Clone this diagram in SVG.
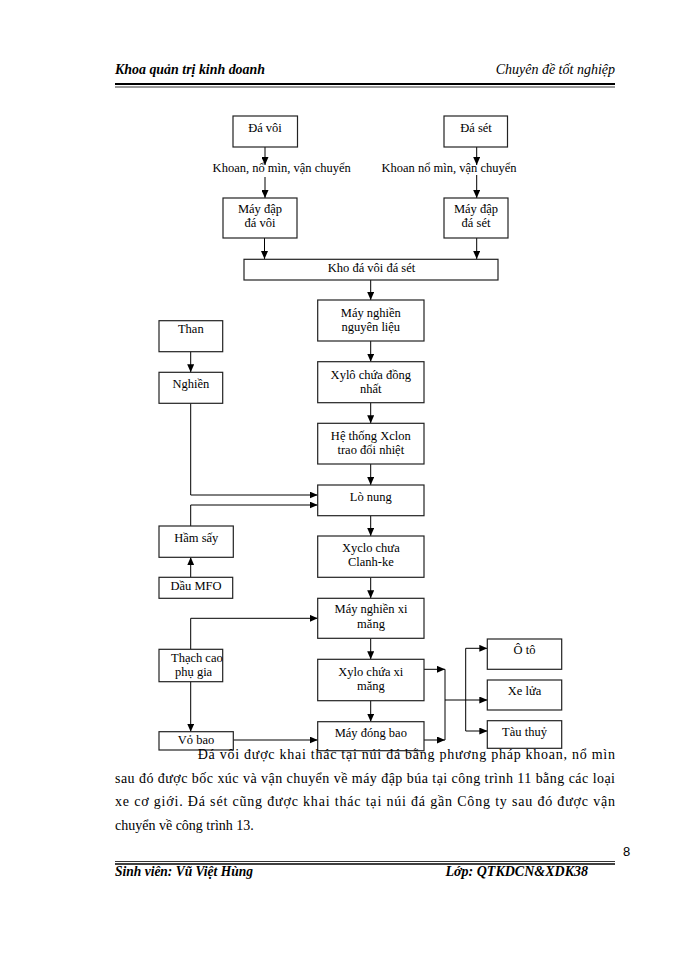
<svg xmlns="http://www.w3.org/2000/svg" width="700" height="960" viewBox="0 0 700 960">
<style>
.box{fill:#fff;stroke:#222;stroke-width:1.2}
.t{font-family:"Liberation Serif","Times New Roman",serif;font-size:12.5px;fill:#000;text-anchor:middle}
.ts{font-family:"Liberation Serif","Times New Roman",serif;font-size:12.5px;fill:#000}
.p{font-family:"Liberation Serif","Times New Roman",serif;font-size:14px;fill:#000}
.hb{font-family:"Liberation Serif","Times New Roman",serif;font-size:14px;font-style:italic;font-weight:bold;fill:#000}
.hi{font-family:"Liberation Serif","Times New Roman",serif;font-size:14px;font-style:italic;fill:#000}
.c{fill:none;stroke:#000;stroke-width:1}
.a{marker-end:url(#ah)}
</style>
<defs>
<marker id="ah" markerUnits="userSpaceOnUse" markerWidth="8" markerHeight="7" refX="8" refY="3.5" orient="auto">
<path d="M0,0 L8,3.5 L0,7 z" fill="#000"/>
</marker>
</defs>
<rect width="700" height="960" fill="#fff"/>

<g id="header">
<text class="hb" x="115" y="74" textLength="150" lengthAdjust="spacingAndGlyphs">Khoa quản trị kinh doanh</text>
<text class="hi" x="615" y="74" text-anchor="end">Chuyên đề tốt nghiệp</text>
<line x1="115" y1="84" x2="615" y2="84" stroke="#000" stroke-width="2"/>
<line x1="115" y1="87" x2="615" y2="87" stroke="#000" stroke-width="0.8"/>
</g>

<g id="connectors">
<line class="c a" x1="265" y1="147" x2="265" y2="165"/>
<line class="c a" x1="265" y1="177" x2="265" y2="198"/>
<line class="c a" x1="476.7" y1="147" x2="476.7" y2="165"/>
<line class="c a" x1="476.7" y1="175" x2="476.7" y2="198"/>
<line class="c a" x1="264.5" y1="238" x2="264.5" y2="259"/>
<line class="c a" x1="476.7" y1="238" x2="476.7" y2="259"/>
<line class="c a" x1="370.7" y1="280" x2="370.7" y2="300"/>
<line class="c a" x1="370.7" y1="341" x2="370.7" y2="361.7"/>
<line class="c a" x1="370.7" y1="402.7" x2="370.7" y2="423.3"/>
<line class="c a" x1="370.7" y1="464" x2="370.7" y2="485"/>
<line class="c a" x1="370.7" y1="515.7" x2="370.7" y2="536"/>
<line class="c a" x1="370.7" y1="577.3" x2="370.7" y2="598.3"/>
<line class="c a" x1="370.7" y1="638.3" x2="370.7" y2="659.3"/>
<line class="c a" x1="370.7" y1="700.7" x2="370.7" y2="721.7"/>
<line class="c a" x1="190.7" y1="351.7" x2="190.7" y2="372.3"/>
<polyline class="c a" points="190.7,403.3 190.7,495 317.7,495"/>
<polyline class="c a" points="190.7,526 190.7,505 317.7,505"/>
<line class="c a" x1="190.7" y1="577.3" x2="190.7" y2="557.3"/>
<polyline class="c a" points="190.7,649.3 190.7,618.3 317.7,618.3"/>
<line class="c a" x1="190.7" y1="681.7" x2="190.7" y2="731.7"/>
<line class="c a" x1="233.3" y1="740" x2="317.7" y2="740"/>
<line class="c a" x1="424" y1="669.3" x2="445" y2="669.3"/>
<line class="c a" x1="424" y1="740" x2="445" y2="740"/>
<line class="c" x1="445" y1="669.3" x2="445" y2="740"/>
<line class="c a" x1="445" y1="700" x2="487.3" y2="700"/>
<line class="c" x1="465.7" y1="648.3" x2="465.7" y2="731"/>
<line class="c a" x1="465.7" y1="648.3" x2="487.3" y2="648.3"/>
<line class="c a" x1="465.7" y1="731" x2="487.3" y2="731"/>
</g>

<g id="label-left"><text class="t" x="281.7" y="172">Khoan, nổ mìn,  vận chuyển</text></g>
<g id="label-right"><text class="t" x="449" y="172">Khoan nổ mìn,  vận chuyển</text></g>

<g id="da-voi"><rect class="box" x="233" y="116" width="64.5" height="31"/><text class="t" x="265" y="132">Đá vôi</text></g>
<g id="da-set"><rect class="box" x="444" y="116" width="63.5" height="31"/><text class="t" x="476" y="132">Đá sét</text></g>
<g id="may-dap-da-voi"><rect class="box" x="223" y="198" width="74" height="40"/><text class="t" x="260" y="213">Máy đập</text><text class="t" x="260" y="227">đá vôi</text></g>
<g id="may-dap-da-set"><rect class="box" x="444" y="198" width="64" height="40"/><text class="t" x="476" y="213">Máy đập</text><text class="t" x="476" y="227">đá sét</text></g>
<g id="kho"><rect class="box" x="244" y="259.3" width="254" height="20.7"/><text class="t" x="371.5" y="271.5">Kho đá vôi đá sét</text></g>
<g id="may-nghien-nl"><rect class="box" x="317.7" y="300" width="106.3" height="41"/><text class="t" x="370.8" y="317">Máy nghiền</text><text class="t" x="370.8" y="331">nguyên liệu</text></g>
<g id="xylo-dong-nhat"><rect class="box" x="317.7" y="361.7" width="106.3" height="41"/><text class="t" x="370.8" y="378.5">Xylô  chứa đồng</text><text class="t" x="370.8" y="392.5">nhất</text></g>
<g id="he-thong-xclon"><rect class="box" x="317.7" y="423.3" width="106.3" height="40.7"/><text class="t" x="370.8" y="439.5">Hệ thống Xclon</text><text class="t" x="370.8" y="453.5">trao đổi nhiệt</text></g>
<g id="than"><rect class="box" x="159" y="320.7" width="63.7" height="31"/><text class="t" x="190.8" y="333">Than</text></g>
<g id="nghien"><rect class="box" x="159" y="372.3" width="63.7" height="31"/><text class="t" x="190.8" y="387.5">Nghiền</text></g>
<g id="lo-nung"><rect class="box" x="317.7" y="485" width="106.3" height="30.7"/><text class="t" x="370.8" y="501">Lò nung</text></g>
<g id="ham-say"><rect class="box" x="159" y="526" width="74.3" height="31.3"/><text class="t" x="196.3" y="542">Hầm sấy</text></g>
<g id="dau-mfo"><rect class="box" x="159" y="577.3" width="73.7" height="21"/><text class="t" x="196" y="590">Dầu MFO</text></g>
<g id="xyclo-clanhke"><rect class="box" x="317.7" y="536" width="106.3" height="41.3"/><text class="t" x="370.8" y="552">Xyclo  chưa</text><text class="t" x="370.8" y="566">Clanh-ke</text></g>
<g id="may-nghien-xm"><rect class="box" x="317.7" y="598.3" width="106.3" height="40"/><text class="t" x="371" y="612.5">Máy nghiền  xi</text><text class="t" x="371" y="628">măng</text></g>
<g id="thach-cao"><rect class="box" x="159" y="649.3" width="63.7" height="32.4"/><text class="ts" x="171" y="661.5">Thạch cao</text><text class="ts" x="175" y="676">phụ gia</text></g>
<g id="vo-bao"><rect class="box" x="159" y="731.7" width="74.3" height="18.3"/><text class="t" x="196" y="743.5">Vỏ bao</text></g>
<g id="xylo-xi-mang"><rect class="box" x="317.7" y="659.3" width="106.3" height="41.4"/><text class="t" x="370.8" y="676">Xylo  chứa xi</text><text class="t" x="370.8" y="689.5">măng</text></g>
<g id="may-dong-bao"><rect class="box" x="317.7" y="721.7" width="106.3" height="29"/><text class="t" x="370.8" y="736.5">Máy đóng bao</text></g>
<g id="o-to"><rect class="box" x="487.3" y="639" width="74.4" height="30.3"/><text class="t" x="524.5" y="654">Ô tô</text></g>
<g id="xe-lua"><rect class="box" x="487.3" y="680" width="74.4" height="30"/><text class="t" x="524.5" y="695">Xe lửa</text></g>
<g id="tau-thuy"><rect class="box" x="487.3" y="720.7" width="74.4" height="27.6"/><text class="t" x="524.5" y="736">Tàu thuỷ</text></g>

<g id="paragraph">
<text class="p" x="197.7" y="759" textLength="417.3" lengthAdjust="spacing">Đá vôi được khai thác tại núi đá bằng phương pháp  khoan, nổ mìn</text>
<text class="p" x="115" y="782.5" textLength="500" lengthAdjust="spacing">sau đó được bốc xúc và  vận  chuyển về máy đập búa tại công trình 11 bằng các loại</text>
<text class="p" x="115" y="806" textLength="500" lengthAdjust="spacing">xe cơ giới. Đá sét cũng được khai thác tại núi đá gần Công ty sau đó được vận</text>
<text class="p" x="115" y="829.5">chuyển về công trình 13.</text>
</g>

<g id="footer">
<text x="626.7" y="856" font-family="Liberation Sans, Arial, sans-serif" font-size="13" text-anchor="middle">8</text>
<line x1="115" y1="861.5" x2="615" y2="861.5" stroke="#000" stroke-width="0.8"/>
<line x1="115" y1="864" x2="615" y2="864" stroke="#000" stroke-width="1.6"/>
<text class="hb" x="115" y="876" textLength="138" lengthAdjust="spacingAndGlyphs">Sinh viên: Vũ Việt Hùng</text>
<text class="hb" x="588" y="876" text-anchor="end">Lớp: QTKDCN&amp;XDK38</text>
</g>
</svg>
